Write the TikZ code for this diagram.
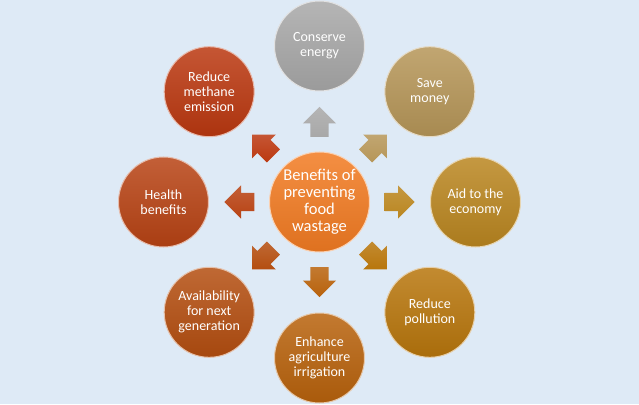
\documentclass[tikz,border=0pt]{standalone}
\usepackage{fontspec}
\setmainfont{Carlito}
\usetikzlibrary{shapes.arrows}
\definecolor{backdrop}{HTML}{DEEAF6}
\definecolor{hub}{HTML}{F27B22}
\definecolor{energy}{HTML}{A8A8A8}
\definecolor{money}{HTML}{B69658}
\definecolor{economy}{HTML}{BA8620}
\definecolor{pollution}{HTML}{B8760C}
\definecolor{irrigation}{HTML}{B8620C}
\definecolor{future}{HTML}{B44E10}
\definecolor{health}{HTML}{B84314}
\definecolor{methane}{HTML}{BB3810}

\begin{document}
\begin{tikzpicture}[x=1pt, y=1pt,
  benefit/.style={circle, minimum size=90pt, inner sep=0pt, text=white, align=center,
    font=\fontsize{14}{15}\selectfont, top color=#1!85!white, bottom color=#1!92!black,
    draw=#1!35!white, line width=1pt},
  pointer/.style={single arrow, minimum height=30pt, inner sep=9pt,
    single arrow head extend=7.5pt, draw=none, top color=#1!85!white, bottom color=#1}]
\fill[backdrop] (-319.5,-202) rectangle (319.5,202);
\useasboundingbox (-319.5,-202) rectangle (319.5,202);
\node[benefit=hub, minimum size=100pt, font=\fontsize{16.5}{17}\selectfont] (hubnode) at (0,0)
  {Benefits of\\preventing\\food\\wastage};
\foreach \a/\tone/\txt [count=\i] in {90/energy/{Conserve\\energy},
    45/money/{Save\\money}, 0/economy/{Aid to the\\economy},
    -45/pollution/{Reduce\\pollution}, -90/irrigation/{Enhance\\agriculture\\irrigation},
    -135/future/{Availability\\for next\\generation}, 180/health/{Health\\benefits},
    135/methane/{Reduce\\methane\\emission}}{
  \node[benefit=\tone] (sat\i) at (\a:156) {\txt};
  \node[pointer=\tone, rotate=\a, anchor=tail] (arr\i) at (\a:65) {};
}
\end{tikzpicture}
\end{document}
